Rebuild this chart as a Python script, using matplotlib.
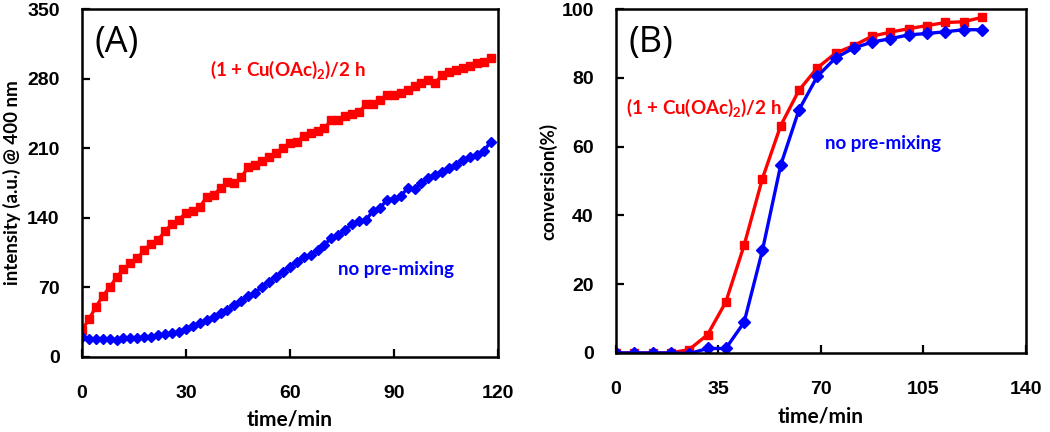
import matplotlib
matplotlib.use("Agg")
import matplotlib.pyplot as plt

# ---------------- data ----------------
# Panel A: intensity at 400 nm, every 2 min
time_a = [0, 2, 4, 6, 8, 10, 12, 14, 16, 18, 20, 22, 24, 26, 28, 30, 32, 34, 36, 38,
          40, 42, 44, 46, 48, 50, 52, 54, 56, 58, 60, 62, 64, 66, 68, 70, 72, 74, 76, 78,
          80, 82, 84, 86, 88, 90, 92, 94, 96, 98, 100, 102, 104, 106, 108, 110, 112, 114, 116, 118]
premix_a = [27, 37.6, 50, 61, 70, 80, 88, 94, 99, 107.5, 114, 117.6, 126.6, 133.7, 137.7,
            145, 147, 150.5, 161, 163, 169.6, 175.7, 174.7, 180.7, 190.8, 193, 197, 201.5,
            205, 210.6, 215, 216.7, 222, 225, 227.4, 230, 238.5, 238.5, 242.5, 244.5, 246,
            254.6, 254, 258.6, 263.7, 263.7, 265.4, 268.7, 272.8, 275.4, 278.8, 276, 283.8,
            287, 288.9, 291, 293, 295.6, 297, 300.6]
nomix_a = [19.5, 18, 17.5, 17.8, 17.5, 16.8, 18.5, 18.5, 18.8, 19.5, 20, 21.5, 22.5, 24, 25,
           28.5, 31.2, 34, 37, 40, 43.7, 47, 52, 56, 61, 64.5, 70.5, 75.6, 80.6, 85.6, 90.7,
           95.7, 100, 102.5, 107.5, 112.5, 120, 122.6, 127.6, 133.7, 137, 137.7, 147, 149.5,
           157.9, 158.5, 162, 169.6, 168.6, 175.3, 179.7, 183, 186.4, 189.8, 193, 198, 201.5,
           203, 207, 216.7]

# Panel B: conversion (%)
time_b = [0, 6.25, 12.5, 18.75, 25, 31.25, 37.5, 43.75, 50, 56.25, 62.5, 68.75, 75, 81.25,
          87.5, 93.75, 100, 106.25, 112.5, 118.75, 125]
premix_b = [0, 0, 0, 0, 1.0, 5.3, 14.8, 31.3, 50.7, 66.1, 76.4, 82.9, 87.2, 89.4, 92.1,
            93.3, 94.3, 95.2, 96.1, 96.3, 97.6]
nomix_b = [0, 0, 0, 0, -0.2, 1.3, 1.3, 8.9, 29.8, 54.6, 70.7, 80.4, 85.8, 88.7, 90.4,
           91.4, 92.5, 92.9, 93.4, 94.0, 94.0]

xticks_a = [0, 30, 60, 90, 120]
yticks_a = [0, 70, 140, 210, 280, 350]
xticks_b = [0, 35, 70, 105, 140]
yticks_b = [0, 20, 40, 60, 80, 100]

label_premix = r"(1 + Cu(OAc)$_{2}$)/2 h"
label_nomix = "no pre-mixing"

# ---------------- style ----------------
plt.rcParams['font.family'] = ['Lato', 'DejaVu Sans']
plt.rcParams['mathtext.default'] = 'regular'

RED = '#FF0000'
BLUE = '#0000FF'

fig = plt.figure(figsize=(10.5, 4.32), dpi=100)
axA = fig.add_axes([0.078, 0.174, 0.396, 0.805])
axB = fig.add_axes([0.5867, 0.183, 0.3903, 0.796])


def style(ax, xt, yt):
    for s in ax.spines.values():
        s.set_linewidth(1.8)
    ax.set_xticks(xt)
    ax.set_yticks(yt)
    ax.tick_params(axis='both', direction='in', length=6, width=1.6,
                   top=False, right=False, labelsize=14)
    ax.tick_params(axis='x', pad=20)
    ax.tick_params(axis='y', pad=16)
    for lab in ax.get_xticklabels() + ax.get_yticklabels():
        lab.set_fontweight('bold')
        lab.set_family(['Liberation Sans', 'DejaVu Sans'])


# Panel A
axA.plot(time_a, premix_a, color=RED, lw=2.4, marker='s', ms=5.8, mec=RED, mfc=RED)
axA.plot(time_a, nomix_a, color=BLUE, lw=2.4, marker='D', ms=5.5, mec=BLUE, mfc=BLUE)
axA.set_xlim(0, 120)
axA.set_ylim(0, 350)
style(axA, xticks_a, yticks_a)
axA.set_xlabel('time/min', fontsize=15, fontweight='bold', labelpad=6)
axA.set_ylabel('intensity (a.u.) @ 400 nm', fontsize=13.5, fontweight='bold', va='center')
axA.yaxis.set_label_coords(-0.168, 0.5)
axA.text(0.03, 0.955, '(A)', transform=axA.transAxes, fontsize=26, va='top', ha='left',
         family=['Open Sans', 'DejaVu Sans'])
axA.text(37, 288.7, label_premix, color=RED, fontsize=13.5, fontweight='bold', va='center')
axA.text(74, 87.5, label_nomix, color=BLUE, fontsize=13.5, fontweight='bold', va='center')

# Panel B
axB.plot(time_b, premix_b, color=RED, lw=2.4, marker='s', ms=5.8, mec=RED, mfc=RED)
axB.plot(time_b, nomix_b, color=BLUE, lw=2.4, marker='D', ms=6, mec=BLUE, mfc=BLUE)
axB.set_xlim(0, 140)
axB.set_ylim(0, 100)
style(axB, xticks_b, yticks_b)
axB.set_xlabel('time/min', fontsize=15, fontweight='bold', labelpad=6)
axB.set_ylabel('conversion(%)', fontsize=13.5, fontweight='bold', va='center')
axB.yaxis.set_label_coords(-0.166, 0.5)
axB.text(0.03, 0.955, '(B)', transform=axB.transAxes, fontsize=26, va='top', ha='left',
         family=['Open Sans', 'DejaVu Sans'])
axB.text(3.4, 71.2, label_premix, color=RED, fontsize=13.5, fontweight='bold', va='center')
axB.text(71.4, 60.8, label_nomix, color=BLUE, fontsize=13.5, fontweight='bold', va='center')

fig.savefig('out.png', dpi=100)
